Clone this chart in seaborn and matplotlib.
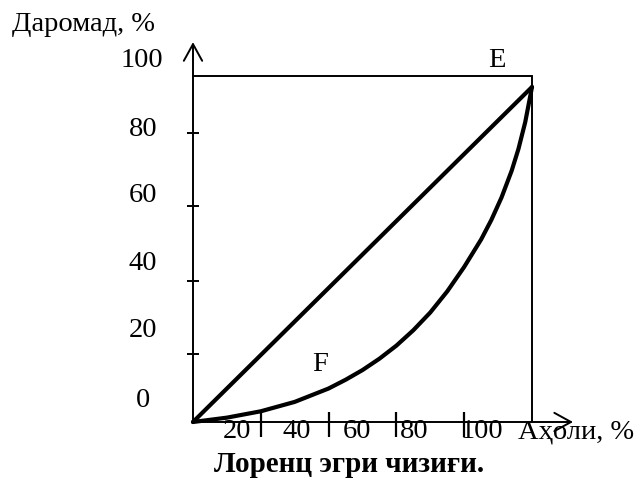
import matplotlib
matplotlib.use('Agg')
import matplotlib.pyplot as plt
import seaborn as sns
import pandas as pd

# Lorenz curve (population %, income %)
population = [0, 10, 20, 30, 40, 45, 50, 55, 60, 65, 70, 75, 80, 85, 88, 91, 94, 96, 98, 100]
income = [0, 1.3, 3.2, 6.0, 10.0, 12.6, 15.5, 18.9, 22.8, 27.4, 32.7, 39.0, 46.3, 54.5, 60.3,
          67.0, 75.0, 81.5, 89.5, 100]
equality_x = [0, 100]
equality_y = [0, 100]

x_ticks = [20, 40, 60, 80]
y_ticks = [20.3, 42.1, 64.5, 86.3]
x_labels = ['20', '40', '60', '80', '100']
y_labels = ['100', '80', '60', '40', '20', '0']

sns.set_style('white')
plt.rcParams['font.family'] = ['Liberation Serif', 'DejaVu Serif']
plt.rcParams['text.color'] = 'black'

fig = plt.figure(figsize=(6.38, 4.8), dpi=100)
ax = fig.add_axes([0, 0, 1, 1])
ax.set_xlim(-193 / 3.39, (638 - 193) / 3.39)
ax.set_ylim(-58 / 3.35, 422 / 3.35)
ax.axis('off')

# box around the square
ax.plot([0, 100], [103.3, 103.3], color='black', lw=1.4)
ax.plot([100, 100], [0, 103.3], color='black', lw=1.4)

# axes with open arrow heads
ax.annotate('', xy=(0, 113.4), xytext=(0, 0),
            arrowprops=dict(arrowstyle='->, head_length=0.6, head_width=0.33',
                            lw=1.4, color='black', mutation_scale=20, shrinkA=0, shrinkB=0))
ax.annotate('', xy=(112.1, 0), xytext=(0, 0),
            arrowprops=dict(arrowstyle='->, head_length=0.6, head_width=0.33',
                            lw=1.4, color='black', mutation_scale=20, shrinkA=0, shrinkB=0))

# tick marks
ax.hlines(y_ticks, -1.8, 1.8, color='black', lw=1.4)
ax.vlines(x_ticks, -4.5, 3.0, color='black', lw=1.6)

# equality line and Lorenz curve
sns.lineplot(x=equality_x, y=equality_y, color='black', lw=3, ax=ax, sort=False,
             solid_capstyle='round')
sns.lineplot(data=pd.DataFrame({'x': population, 'y': income}), x='x', y='y',
             color='black', lw=3, ax=ax, sort=False,
             solid_joinstyle='round', solid_capstyle='round')

fs = 20.5
x_label_pos = [13.0, 30.7, 48.4, 65.2, 85.3]
for xp, t in zip(x_label_pos, x_labels):
    ax.text(xp, -4.8, t, ha='center', va='baseline', fontsize=fs)

y_label_pos = [106.0, 85.4, 65.7, 45.4, 25.4, 4.5]
y_label_right = [-8.8, -10.6, -10.6, -10.6, -10.6, -12.7]
for yp, xr, t in zip(y_label_pos, y_label_right, y_labels):
    ax.text(xr, yp, t, ha='right', va='baseline', fontsize=fs)

ax.text(-53.4, 116.7, 'Даромад, %', ha='left', va='baseline', fontsize=fs)
ax.text(95.9, -4.8, 'Аҳоли, %', ha='left', va='baseline', fontsize=fs)
ax.text(89.7, 106.0, 'E', ha='center', va='baseline', fontsize=fs)
ax.text(37.5, 15.2, 'F', ha='center', va='baseline', fontsize=fs)
ax.text(46.0, -14.9, 'Лоренц эгри чизиғи.', ha='center', va='baseline',
        fontsize=21, fontweight='bold')

fig.savefig('out.png', dpi=100)
